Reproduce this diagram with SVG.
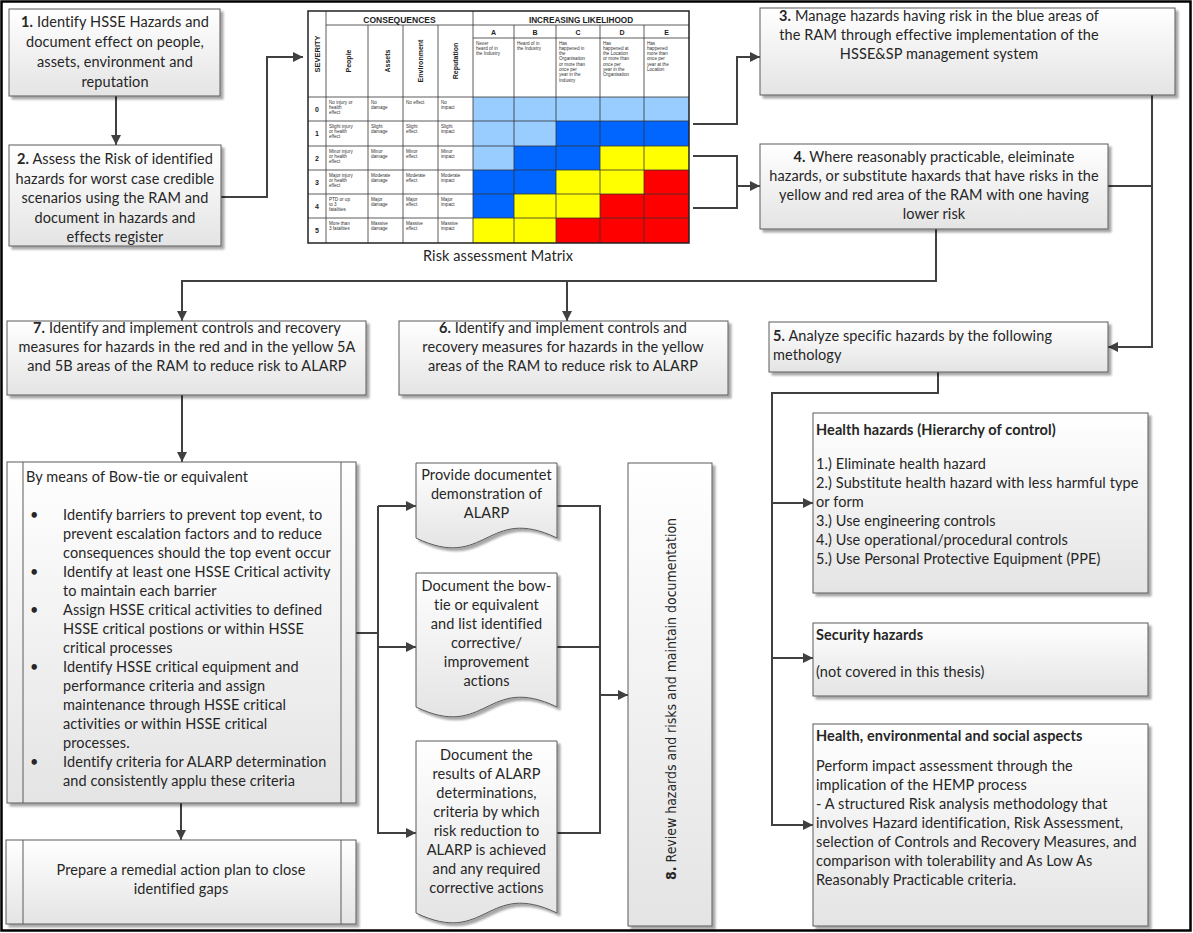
<svg xmlns="http://www.w3.org/2000/svg" width="1193" height="933" viewBox="0 0 1193 933">
<defs>
  <linearGradient id="g" x1="0" y1="0" x2="0" y2="1">
    <stop offset="0" stop-color="#ffffff"/>
    <stop offset="1" stop-color="#e4e4e4"/>
  </linearGradient>
  <filter id="sh" x="-5%" y="-5%" width="115%" height="115%">
    <feGaussianBlur in="SourceAlpha" stdDeviation="1.2"/>
    <feOffset dx="3" dy="3"/>
    <feComponentTransfer><feFuncA type="linear" slope="0.35"/></feComponentTransfer>
    <feMerge><feMergeNode/><feMergeNode in="SourceGraphic"/></feMerge>
  </filter>
  <marker id="arr" viewBox="0 0 10 10" refX="10" refY="5" markerWidth="11" markerHeight="10" markerUnits="userSpaceOnUse" orient="auto">
    <path d="M0,0 L10,5 L0,10 z" fill="#404040"/>
  </marker>
  <style>
    .t { font-family: Lato, "Open Sans", sans-serif; font-size: 14.5px; letter-spacing: 0.1px; fill: #262626; }
    .c { text-anchor: middle; }
    .b { font-weight: bold; }
    .box { fill: url(#g); stroke: #5b5b5b; stroke-width: 1; filter: url(#sh); }
    .inner { stroke: #5b5b5b; stroke-width: 1; fill: none; }
    .ln { fill: none; stroke: #404040; stroke-width: 2; }
    .ar { marker-end: url(#arr); }
    .grid { stroke: #333; stroke-width: 0.8; fill: none; }
    .ms { font-family: "Liberation Sans", Arial, sans-serif; font-size: 4.6px; fill: #333; }
    .mh { font-family: "Liberation Sans", Arial, sans-serif; font-weight: bold; fill: #222; }
    .lb { fill: #99ccff; } .db { fill: #0066ff; } .ye { fill: #ffff00; } .re { fill: #ff0000; }
  </style>
</defs>

<rect x="0" y="0" width="1193" height="933" fill="#ffffff"/>
<rect x="1.5" y="1.5" width="1189" height="929" fill="none" stroke="#000" stroke-width="2.5"/>

<!-- connectors -->
<g id="connectors">
  <path class="ln ar" d="M116,96 V145"/>
  <path class="ln ar" d="M221,197 H267 V57 H303"/>
  <path class="ln ar" d="M693,124 H737 V57 H760"/>
  <path class="ln" d="M693,156 H737 V208 H693"/>
  <path class="ln ar" d="M737,186 H760"/>
  <path class="ln" d="M1175,52 H1152 V186 H1108"/>
  <path class="ln ar" d="M1152,186 V347 H1108"/>
  <path class="ln ar" d="M936,229 V281 H182 V321"/>
  <path class="ln ar" d="M567,281 V321"/>
  <path class="ln ar" d="M182,395 V462"/>
  <path class="ln" d="M356,633 H378"/>
  <path class="ln ar" d="M378,506 H416"/>
  <path class="ln ar" d="M378,647 H416"/>
  <path class="ln ar" d="M378,506 V833 H416"/>
  <path class="ln" d="M557,506 H600 V833 H557"/>
  <path class="ln" d="M557,647 H600"/>
  <path class="ln ar" d="M600,695 H628"/>
  <path class="ln ar" d="M181,803 V840"/>
  <path class="ln ar" d="M938,372 V393 H772 V825 H813"/>
  <path class="ln ar" d="M772,503 H813"/>
  <path class="ln ar" d="M772,658 H813"/>
</g>

<!-- step 1 -->
<g id="step1">
  <rect class="box" x="9" y="9" width="211" height="87"/>
  <text class="t c" x="115" y="27"><tspan class="b">1.</tspan> Identify HSSE Hazards and</text>
  <text class="t c" x="115" y="47">document effect on people,</text>
  <text class="t c" x="115" y="67">assets, environment and</text>
  <text class="t c" x="115" y="87">reputation</text>
</g>

<!-- step 2 -->
<g id="step2">
  <rect class="box" x="9" y="145" width="212" height="101"/>
  <text class="t c" x="115" y="164"><tspan class="b">2.</tspan> Assess the Risk of identified</text>
  <text class="t c" x="115" y="183.5">hazards for worst case credible</text>
  <text class="t c" x="115" y="203">scenarios using the RAM and</text>
  <text class="t c" x="115" y="222.5">document in hazards and</text>
  <text class="t c" x="115" y="242">effects register</text>
</g>

<!-- risk assessment matrix -->
<g id="ram">
  <rect x="308" y="11" width="381" height="232" fill="#fff"/>
  <g>
    <rect class="lb" x="473" y="97" width="216" height="24"/>
    <rect class="lb" x="473" y="121" width="83" height="25"/>
    <rect class="db" x="556" y="121" width="133" height="25"/>
    <rect class="lb" x="473" y="146" width="41" height="24"/>
    <rect class="db" x="514" y="146" width="86" height="24"/>
    <rect class="ye" x="600" y="146" width="89" height="24"/>
    <rect class="db" x="473" y="170" width="83" height="24"/>
    <rect class="ye" x="556" y="170" width="88" height="24"/>
    <rect class="re" x="644" y="170" width="45" height="24"/>
    <rect class="db" x="473" y="194" width="41" height="24"/>
    <rect class="ye" x="514" y="194" width="86" height="24"/>
    <rect class="re" x="600" y="194" width="89" height="24"/>
    <rect class="ye" x="473" y="218" width="83" height="25"/>
    <rect class="re" x="556" y="218" width="133" height="25"/>
  </g>
  <path class="grid" d="M326,25 H689 M473,38 H689 M308,97 H689 M308,121 H689 M308,146 H689 M308,170 H689 M308,194 H689 M308,218 H689
    M326,11 V243 M368,25 V243 M403,25 V243 M438,25 V243 M473,11 V243 M514,25 V243 M556,25 V243 M600,25 V243 M644,25 V243"/>
  <rect x="308" y="11" width="381" height="232" fill="none" stroke="#222" stroke-width="1.5"/>

  <text class="mh c" x="399.5" y="22.5" font-size="8.5">CONSEQUENCES</text>
  <text class="mh c" x="581" y="22.5" font-size="8.2">INCREASING LIKELIHOOD</text>
  <text class="mh c" transform="translate(320,54) rotate(-90)" font-size="7.5">SEVERITY</text>
  <text class="mh c" transform="translate(350.5,61) rotate(-90)" font-size="7">People</text>
  <text class="mh c" transform="translate(390,61) rotate(-90)" font-size="7">Assets</text>
  <text class="mh c" transform="translate(423,61) rotate(-90)" font-size="7">Environment</text>
  <text class="mh c" transform="translate(458,61) rotate(-90)" font-size="7">Reputation</text>
  <g class="mh" font-size="7" text-anchor="middle">
    <text x="493.5" y="34.5">A</text>
    <text x="535" y="34.5">B</text>
    <text x="578" y="34.5">C</text>
    <text x="622" y="34.5">D</text>
    <text x="666.5" y="34.5">E</text>
    <text x="317" y="112">0</text>
    <text x="317" y="136">1</text>
    <text x="317" y="161">2</text>
    <text x="317" y="185">3</text>
    <text x="317" y="209">4</text>
    <text x="317" y="233">5</text>
  </g>
  <g class="ms">
    <text y="44.5"><tspan x="476">Never</tspan><tspan x="476" dy="5.3">heard of in</tspan><tspan x="476" dy="5.3">the Industry</tspan></text>
    <text y="44.5"><tspan x="517">Heard of in</tspan><tspan x="517" dy="5.3">the Industry</tspan></text>
    <text y="44.5"><tspan x="559">Has</tspan><tspan x="559" dy="5.3">happened in</tspan><tspan x="559" dy="5.3">the</tspan><tspan x="559" dy="5.3">Organisation</tspan><tspan x="559" dy="5.3">or more than</tspan><tspan x="559" dy="5.3">once per</tspan><tspan x="559" dy="5.3">year in the</tspan><tspan x="559" dy="5.3">Industry</tspan></text>
    <text y="44.5"><tspan x="603">Has</tspan><tspan x="603" dy="5.3">happened at</tspan><tspan x="603" dy="5.3">the Location</tspan><tspan x="603" dy="5.3">or more than</tspan><tspan x="603" dy="5.3">once per</tspan><tspan x="603" dy="5.3">year in the</tspan><tspan x="603" dy="5.3">Organisation</tspan></text>
    <text y="44.5"><tspan x="647">Has</tspan><tspan x="647" dy="5.3">happened</tspan><tspan x="647" dy="5.3">more than</tspan><tspan x="647" dy="5.3">once per</tspan><tspan x="647" dy="5.3">year at the</tspan><tspan x="647" dy="5.3">Location</tspan></text>

    <text y="103.5"><tspan x="329">No injury or</tspan><tspan x="329" dy="5.3">health</tspan><tspan x="329" dy="5.3">effect</tspan></text>
    <text y="103.5"><tspan x="371">No</tspan><tspan x="371" dy="5.3">damage</tspan></text>
    <text y="103.5"><tspan x="406">No  effect</tspan></text>
    <text y="103.5"><tspan x="441">No</tspan><tspan x="441" dy="5.3">impact</tspan></text>

    <text y="127.5"><tspan x="329">Slight injury</tspan><tspan x="329" dy="5.3">or health</tspan><tspan x="329" dy="5.3">effect</tspan></text>
    <text y="127.5"><tspan x="371">Slight</tspan><tspan x="371" dy="5.3">damage</tspan></text>
    <text y="127.5"><tspan x="406">Slight</tspan><tspan x="406" dy="5.3">effect</tspan></text>
    <text y="127.5"><tspan x="441">Slight</tspan><tspan x="441" dy="5.3">impact</tspan></text>

    <text y="152.5"><tspan x="329">Minor injury</tspan><tspan x="329" dy="5.3">or health</tspan><tspan x="329" dy="5.3">effect</tspan></text>
    <text y="152.5"><tspan x="371">Minor</tspan><tspan x="371" dy="5.3">damage</tspan></text>
    <text y="152.5"><tspan x="406">Minor</tspan><tspan x="406" dy="5.3">effect</tspan></text>
    <text y="152.5"><tspan x="441">Minor</tspan><tspan x="441" dy="5.3">impact</tspan></text>

    <text y="176.5"><tspan x="329">Major injury</tspan><tspan x="329" dy="5.3">or health</tspan><tspan x="329" dy="5.3">effect</tspan></text>
    <text y="176.5"><tspan x="371">Moderate</tspan><tspan x="371" dy="5.3">damage</tspan></text>
    <text y="176.5"><tspan x="406">Moderate</tspan><tspan x="406" dy="5.3">effect</tspan></text>
    <text y="176.5"><tspan x="441">Moderate</tspan><tspan x="441" dy="5.3">impact</tspan></text>

    <text y="200.5"><tspan x="329">PTD or up</tspan><tspan x="329" dy="5.3">to 3</tspan><tspan x="329" dy="5.3">fatalities</tspan></text>
    <text y="200.5"><tspan x="371">Major</tspan><tspan x="371" dy="5.3">damage</tspan></text>
    <text y="200.5"><tspan x="406">Major</tspan><tspan x="406" dy="5.3">effect</tspan></text>
    <text y="200.5"><tspan x="441">Major</tspan><tspan x="441" dy="5.3">impact</tspan></text>

    <text y="224.5"><tspan x="329">More than</tspan><tspan x="329" dy="5.3">3 fatalities</tspan></text>
    <text y="224.5"><tspan x="371">Massive</tspan><tspan x="371" dy="5.3">damage</tspan></text>
    <text y="224.5"><tspan x="406">Massive</tspan><tspan x="406" dy="5.3">effect</tspan></text>
    <text y="224.5"><tspan x="441">Massive</tspan><tspan x="441" dy="5.3">impact</tspan></text>
  </g>
  <text class="t c" x="498" y="261">Risk assessment Matrix</text>
</g>

<!-- step 3 -->
<g id="step3">
  <rect class="box" x="760" y="8" width="415" height="87"/>
  <text class="t c" x="939" y="21"><tspan class="b">3.</tspan> Manage hazards having risk in the blue areas of</text>
  <text class="t c" x="939" y="40">the RAM through effective implementation of the</text>
  <text class="t c" x="939" y="59">HSSE&amp;SP management system</text>
</g>

<!-- step 4 -->
<g id="step4">
  <rect class="box" x="760" y="144" width="348" height="85"/>
  <text class="t c" x="934" y="162"><tspan class="b">4.</tspan> Where reasonably practicable, eleiminate</text>
  <text class="t c" x="934" y="181">hazards, or substitute haxards that have risks in the</text>
  <text class="t c" x="934" y="200">yellow and red area of the RAM with one having</text>
  <text class="t c" x="934" y="219">lower risk</text>
</g>

<!-- step 5 -->
<g id="step5">
  <rect class="box" x="769" y="322" width="339" height="50"/>
  <text class="t" x="773" y="341"><tspan class="b">5.</tspan> Analyze specific hazards by the following</text>
  <text class="t" x="773" y="360">methology</text>
</g>

<!-- step 7 -->
<g id="step7">
  <rect class="box" x="7" y="321" width="359" height="74"/>
  <text class="t c" x="187" y="333"><tspan class="b">7.</tspan> Identify and implement controls and recovery</text>
  <text class="t c" x="187" y="352">measures for hazards in the red and in the yellow 5A</text>
  <text class="t c" x="187" y="371">and 5B areas of the RAM to reduce risk to ALARP</text>
</g>

<!-- step 6 -->
<g id="step6">
  <rect class="box" x="399" y="321" width="329" height="74"/>
  <text class="t c" x="563" y="333"><tspan class="b">6.</tspan> Identify and implement controls and</text>
  <text class="t c" x="563" y="352">recovery measures for hazards in the yellow</text>
  <text class="t c" x="563" y="371">areas of the RAM to reduce risk to ALARP</text>
</g>

<!-- bow-tie analysis -->
<g id="bowtie">
  <rect class="box" x="7" y="462" width="349" height="341"/>
  <path class="inner" d="M23,462 V803 M341,462 V803"/>
  <text class="t" x="26" y="482">By means of Bow-tie or equivalent</text>
  <g class="t">
    <text x="30" y="520">•</text>
    <text x="63" y="520">Identify barriers to prevent top event, to</text>
    <text x="63" y="539">prevent escalation factors and to reduce</text>
    <text x="63" y="558">consequences should the top event occur</text>
    <text x="30" y="577">•</text>
    <text x="63" y="577">Identify at least one HSSE Critical activity</text>
    <text x="63" y="596">to maintain each barrier</text>
    <text x="30" y="615">•</text>
    <text x="63" y="615">Assign HSSE critical activities to defined</text>
    <text x="63" y="634">HSSE critical postions or within HSSE</text>
    <text x="63" y="653">critical processes</text>
    <text x="30" y="672">•</text>
    <text x="63" y="672">Identify HSSE critical equipment and</text>
    <text x="63" y="691">performance criteria and assign</text>
    <text x="63" y="710">maintenance through HSSE critical</text>
    <text x="63" y="729">activities or within HSSE critical</text>
    <text x="63" y="748">processes.</text>
    <text x="30" y="767">•</text>
    <text x="63" y="767">Identify criteria for ALARP determination</text>
    <text x="63" y="786">and consistently applu these criteria</text>
  </g>
</g>

<!-- remedial action plan -->
<g id="remedial">
  <rect class="box" x="6" y="840" width="350" height="84"/>
  <path class="inner" d="M23,840 V924 M341,840 V924"/>
  <text class="t c" x="181" y="875">Prepare a remedial action plan to close</text>
  <text class="t c" x="181" y="894">identified gaps</text>
</g>

<!-- documents -->
<g id="doc1">
  <path class="box" d="M416,463 H557 V538 C486.5,504 486.5,572 416,538 Z"/>
  <text class="t c" x="486.5" y="480">Provide documentet</text>
  <text class="t c" x="486.5" y="499">demonstration of</text>
  <text class="t c" x="486.5" y="518">ALARP</text>
</g>
<g id="doc2">
  <path class="box" d="M416,573 H557 V707 C486.5,673 486.5,741 416,707 Z"/>
  <text class="t c" x="486.5" y="591">Document the bow-</text>
  <text class="t c" x="486.5" y="610">tie or equivalent</text>
  <text class="t c" x="486.5" y="629">and list identified</text>
  <text class="t c" x="486.5" y="648">corrective/</text>
  <text class="t c" x="486.5" y="667">improvement</text>
  <text class="t c" x="486.5" y="686">actions</text>
</g>
<g id="doc3">
  <path class="box" d="M416,741 H557 V913 C486.5,879 486.5,947 416,913 Z"/>
  <text class="t c" x="486.5" y="760">Document the</text>
  <text class="t c" x="486.5" y="779">results of ALARP</text>
  <text class="t c" x="486.5" y="798">determinations,</text>
  <text class="t c" x="486.5" y="817">criteria by which</text>
  <text class="t c" x="486.5" y="836">risk reduction to</text>
  <text class="t c" x="486.5" y="855">ALARP is achieved</text>
  <text class="t c" x="486.5" y="874">and any required</text>
  <text class="t c" x="486.5" y="893">corrective actions</text>
</g>

<!-- step 8 -->
<g id="step8">
  <rect class="box" x="628" y="463" width="84" height="463"/>
  <text class="c" transform="translate(676,699) rotate(-90)" font-family="'DejaVu Sans', sans-serif" font-size="13.5" fill="#262626" textLength="362" lengthAdjust="spacingAndGlyphs"><tspan class="b">8.</tspan> Review hazards and risks and maintain documentation</text>
</g>

<!-- health hazards -->
<g id="health">
  <rect class="box" x="813" y="413" width="335" height="180"/>
  <text class="t b" x="816" y="435">Health hazards (Hierarchy of control)</text>
  <text class="t" x="816" y="469">1.) Eliminate health hazard</text>
  <text class="t" x="816" y="488">2.) Substitute health hazard with less harmful type</text>
  <text class="t" x="816" y="507">or form</text>
  <text class="t" x="816" y="526">3.) Use engineering controls</text>
  <text class="t" x="816" y="545">4.) Use operational/procedural controls</text>
  <text class="t" x="816" y="564">5.) Use Personal Protective Equipment (PPE)</text>
</g>

<!-- security hazards -->
<g id="security">
  <rect class="box" x="813" y="623" width="335" height="73"/>
  <text class="t b" x="816" y="640">Security hazards</text>
  <text class="t" x="816" y="677">(not covered in this thesis)</text>
</g>

<!-- health, environmental and social aspects -->
<g id="hesa">
  <rect class="box" x="813" y="724" width="335" height="202"/>
  <text class="t b" x="816" y="741">Health, environmental and social aspects</text>
  <text class="t" x="816" y="771">Perform impact assessment through the</text>
  <text class="t" x="816" y="790">implication of the HEMP process</text>
  <text class="t" x="816" y="809">- A structured Risk analysis methodology that</text>
  <text class="t" x="816" y="828">involves Hazard identification, Risk Assessment,</text>
  <text class="t" x="816" y="847">selection of Controls and Recovery Measures, and</text>
  <text class="t" x="816" y="866">comparison with tolerability and As Low As</text>
  <text class="t" x="816" y="885">Reasonably Practicable criteria.</text>
</g>
</svg>
